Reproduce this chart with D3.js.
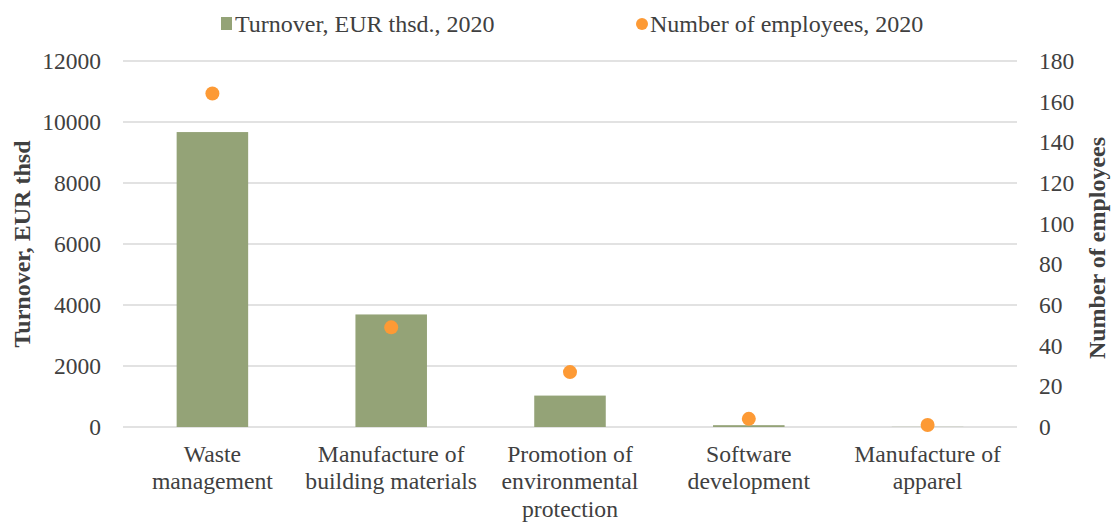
<!DOCTYPE html>
<html>
<head>
<meta charset="utf-8">
<script src="https://cdn.jsdelivr.net/npm/d3@7"></script>
<style>
  body { margin: 0; background: #fff; }
  text { font-family: "Liberation Serif", "Times New Roman", serif; fill: #404040; }
</style>
</head>
<body>
<script>
// chart data
const categories = [
  ["Waste", "management"],
  ["Manufacture of", "building materials"],
  ["Promotion of", "environmental", "protection"],
  ["Software", "development"],
  ["Manufacture of", "apparel"]
];
const turnover = [9670, 3690, 1030, 60, 5];
const employees = [164, 49, 27, 4, 1];
const leftTicks = [0, 2000, 4000, 6000, 8000, 10000, 12000];
const rightTicks = [0, 20, 40, 60, 80, 100, 120, 140, 160, 180];

const width = 1115, height = 522;
const margin = {top: 61, right: 98, bottom: 95, left: 123};

const svg = d3.select("body").append("svg")
  .attr("width", width)
  .attr("height", height);

const x = d3.scaleBand()
  .domain(d3.range(categories.length))
  .range([margin.left, width - margin.right])
  .paddingInner(0.6)
  .paddingOuter(0.3);

const yL = d3.scaleLinear().domain([0, 12000]).range([height - margin.bottom, margin.top]);
const yR = d3.scaleLinear().domain([0, 180]).range([height - margin.bottom, margin.top]);

// gridlines
svg.append("g").selectAll("line")
  .data(leftTicks)
  .enter().append("line")
  .attr("x1", margin.left)
  .attr("x2", width - margin.right)
  .attr("y1", d => yL(d))
  .attr("y2", d => yL(d))
  .attr("stroke", "#d9d9d9")
  .attr("stroke-width", 1.5);

// left axis labels
const leftAxis = svg.append("g")
  .attr("transform", "translate(" + (margin.left - 22) + ",0)")
  .call(d3.axisLeft(yL).tickValues(leftTicks).tickFormat(d3.format("d")).tickSize(0).tickPadding(0));
leftAxis.select(".domain").remove();
leftAxis.attr("font-family", null);
leftAxis.selectAll("text")
  .style("font-size", "23.5px")
  .attr("fill", "#404040");

// right axis labels
const rightAxis = svg.append("g")
  .attr("transform", "translate(" + (width - margin.right + 22) + ",0)")
  .call(d3.axisRight(yR).tickValues(rightTicks).tickFormat(d3.format("d")).tickSize(0).tickPadding(0));
rightAxis.select(".domain").remove();
rightAxis.attr("font-family", null);
rightAxis.selectAll("text")
  .style("font-size", "23.5px")
  .attr("fill", "#404040");

// bars
svg.append("g").selectAll("rect")
  .data(turnover)
  .enter().append("rect")
  .attr("x", (d, i) => x(i))
  .attr("width", x.bandwidth())
  .attr("y", d => yL(d))
  .attr("height", d => yL(0) - yL(d))
  .attr("fill", "#94a377");

// dots
svg.append("g").selectAll("circle")
  .data(employees)
  .enter().append("circle")
  .attr("cx", (d, i) => x(i) + x.bandwidth() / 2)
  .attr("cy", d => yR(d))
  .attr("r", 7)
  .attr("fill", "#fd9a35");

// category labels
const cat = svg.append("g").selectAll("text")
  .data(categories)
  .enter().append("text")
  .attr("text-anchor", "middle")
  .style("font-size", "23.7px")
  .attr("x", (d, i) => x(i) + x.bandwidth() / 2)
  .attr("y", 462);
cat.selectAll("tspan")
  .data(d => d)
  .enter().append("tspan")
  .attr("x", function() { return this.parentNode.getAttribute("x"); })
  .attr("dy", (d, i) => i === 0 ? 0 : 27.3)
  .text(d => d);

// axis titles
svg.append("text")
  .attr("transform", "translate(30,244) rotate(-90)")
  .attr("text-anchor", "middle")
  .style("font-size", "24px")
  .style("font-weight", "bold")
  .text("Turnover, EUR thsd");

svg.append("text")
  .attr("transform", "translate(1105,248) rotate(-90)")
  .attr("text-anchor", "middle")
  .style("font-size", "24px")
  .style("font-weight", "bold")
  .text("Number of employees");

// legend
const legend = svg.append("g");
legend.append("rect")
  .attr("x", 221).attr("y", 17)
  .attr("width", 11).attr("height", 13)
  .attr("fill", "#94a377");
legend.append("text")
  .attr("x", 235).attr("y", 32)
  .style("font-size", "24px")
  .text("Turnover, EUR thsd., 2020");
legend.append("circle")
  .attr("cx", 642).attr("cy", 24).attr("r", 6)
  .attr("fill", "#fd9a35");
legend.append("text")
  .attr("x", 650).attr("y", 32)
  .style("font-size", "24px")
  .text("Number of employees, 2020");
</script>
</body>
</html>
